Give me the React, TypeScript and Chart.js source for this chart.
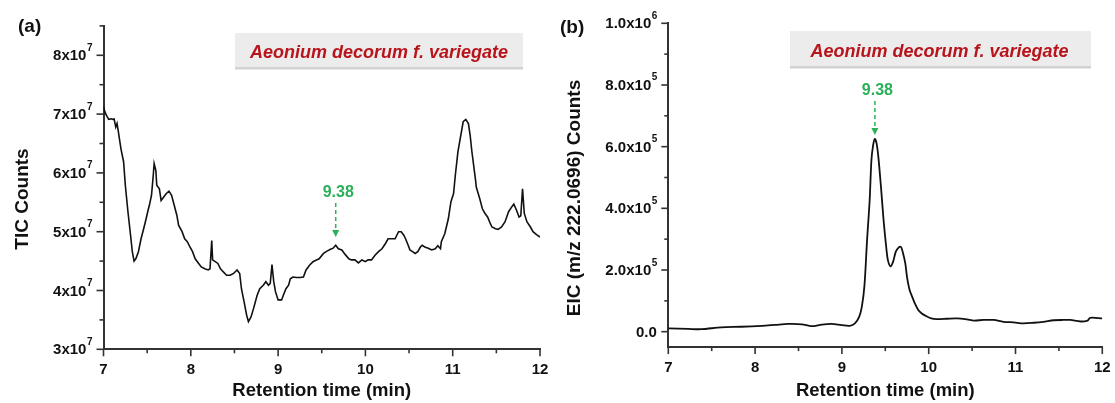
import React, { useEffect, useRef } from 'react';
import { Chart, registerables } from 'chart.js';

Chart.register(...registerables);

const FONT = '"Liberation Sans", Arial, Helvetica, sans-serif';
const AXIS = '#333333';
const GREEN = '#2bb05a';
const RED = '#b8141c';

// ---------- Data (a) TIC ----------
const ticTime = [
  7.00, 7.02, 7.04, 7.06, 7.09, 7.11, 7.12, 7.14, 7.155, 7.17, 7.20, 7.23, 7.25, 7.28, 7.31, 7.33, 7.35, 7.37,
  7.40, 7.43, 7.46, 7.48, 7.51, 7.53, 7.55, 7.57, 7.58, 7.60, 7.61, 7.64, 7.66, 7.69, 7.72, 7.75, 7.78, 7.81,
  7.84, 7.86, 7.90, 7.93, 7.96, 7.99, 8.02, 8.05, 8.09, 8.12, 8.16, 8.20, 8.22, 8.24, 8.25, 8.28, 8.31, 8.34,
  8.37, 8.41, 8.45, 8.49, 8.53, 8.56, 8.58, 8.61, 8.64, 8.66, 8.69, 8.72, 8.76, 8.79, 8.83, 8.86, 8.89, 8.91,
  8.93, 8.95, 8.97, 9.00, 9.04, 9.06, 9.09, 9.12, 9.14, 9.17, 9.21, 9.25, 9.29, 9.32, 9.36, 9.40, 9.44, 9.47,
  9.52, 9.56, 9.60, 9.63, 9.66, 9.69, 9.73, 9.77, 9.81, 9.84, 9.88, 9.92, 9.96, 10.00, 10.03, 10.07, 10.11,
  10.15, 10.19, 10.23, 10.26, 10.30, 10.34, 10.38, 10.41, 10.44, 10.46, 10.49, 10.51, 10.54, 10.57, 10.60,
  10.63, 10.65, 10.68, 10.72, 10.76, 10.80, 10.83, 10.86, 10.87, 10.91, 10.95, 10.98, 11.01, 11.03, 11.06,
  11.10, 11.12, 11.15, 11.18, 11.20, 11.22, 11.26, 11.27, 11.31, 11.34, 11.37, 11.40, 11.43, 11.45, 11.49,
  11.52, 11.56, 11.60, 11.64, 11.68, 11.70, 11.73, 11.76, 11.78, 11.80, 11.82, 11.85, 11.89, 11.92, 11.96, 12.00,
];
const ticCounts = [
  7.12e7, 7.02e7, 6.96e7, 6.91e7, 6.92e7, 6.91e7, 6.93e7, 6.78e7, 6.84e7, 6.70e7, 6.41e7, 6.19e7, 5.79e7, 5.34e7,
  4.94e7, 4.66e7, 4.50e7, 4.54e7, 4.66e7, 4.88e7, 5.05e7, 5.17e7, 5.36e7, 5.48e7, 5.62e7, 5.96e7, 6.16e7, 6.04e7,
  5.79e7, 5.73e7, 5.53e7, 5.59e7, 5.65e7, 5.69e7, 5.62e7, 5.45e7, 5.28e7, 5.11e7, 5.00e7, 4.88e7, 4.83e7, 4.74e7,
  4.66e7, 4.54e7, 4.46e7, 4.40e7, 4.37e7, 4.35e7, 4.37e7, 4.85e7, 4.52e7, 4.49e7, 4.46e7, 4.37e7, 4.32e7, 4.26e7,
  4.26e7, 4.29e7, 4.35e7, 4.29e7, 4.03e7, 3.81e7, 3.58e7, 3.47e7, 3.55e7, 3.70e7, 3.92e7, 4.03e7, 4.09e7, 4.15e7,
  4.09e7, 4.12e7, 4.44e7, 4.15e7, 3.98e7, 3.84e7, 3.84e7, 3.92e7, 4.03e7, 4.09e7, 4.20e7, 4.23e7, 4.22e7, 4.22e7,
  4.23e7, 4.35e7, 4.43e7, 4.49e7, 4.52e7, 4.54e7, 4.63e7, 4.67e7, 4.70e7, 4.72e7, 4.77e7, 4.71e7, 4.69e7, 4.61e7,
  4.54e7, 4.52e7, 4.52e7, 4.47e7, 4.52e7, 4.49e7, 4.52e7, 4.52e7, 4.60e7, 4.66e7, 4.71e7, 4.80e7, 4.88e7, 4.88e7,
  4.88e7, 5.00e7, 5.00e7, 4.94e7, 4.88e7, 4.77e7, 4.69e7, 4.66e7, 4.63e7, 4.66e7, 4.74e7, 4.77e7, 4.74e7, 4.72e7,
  4.69e7, 4.71e7, 4.76e7, 4.71e7, 4.83e7, 4.97e7, 5.22e7, 5.51e7, 5.65e7, 5.96e7, 6.36e7, 6.70e7, 6.87e7, 6.91e7,
  6.84e7, 6.64e7, 6.36e7, 5.90e7, 5.76e7, 5.56e7, 5.39e7, 5.31e7, 5.25e7, 5.14e7, 5.08e7, 5.05e7, 5.04e7, 5.08e7,
  5.17e7, 5.34e7, 5.43e7, 5.47e7, 5.37e7, 5.25e7, 5.27e7, 5.73e7, 5.31e7, 5.17e7, 5.08e7, 5.00e7, 4.95e7, 4.91e7,
];

// ---------- Data (b) EIC ----------
const eicTime = [
  7.00, 7.23, 7.38, 7.61, 7.84, 8.08, 8.23, 8.38, 8.54, 8.65, 8.77, 8.88, 9.00, 9.09, 9.15, 9.20, 9.23, 9.26,
  9.29, 9.32, 9.34, 9.36, 9.38, 9.40, 9.42, 9.45, 9.48, 9.51, 9.53, 9.56, 9.59, 9.62, 9.65, 9.68, 9.70, 9.73,
  9.75, 9.78, 9.81, 9.84, 9.88, 9.92, 9.98, 10.03, 10.09, 10.21, 10.32, 10.44, 10.52, 10.63, 10.75, 10.86,
  10.98, 11.09, 11.21, 11.32, 11.44, 11.55, 11.63, 11.75, 11.83, 11.86, 12.00,
];
const eicCounts = [
  0.11e5, 0.09e5, 0.08e5, 0.14e5, 0.16e5, 0.19e5, 0.22e5, 0.25e5, 0.24e5, 0.18e5, 0.23e5, 0.25e5, 0.21e5, 0.19e5,
  0.27e5, 0.49e5, 0.81e5, 1.50e5, 2.97e5, 4.27e5, 5.56e5, 6.05e5, 6.25e5, 6.10e5, 5.67e5, 4.70e5, 3.62e5, 2.76e5,
  2.32e5, 2.12e5, 2.27e5, 2.59e5, 2.72e5, 2.75e5, 2.59e5, 2.22e5, 1.78e5, 1.35e5, 1.13e5, 0.92e5, 0.70e5, 0.59e5,
  0.49e5, 0.43e5, 0.41e5, 0.42e5, 0.43e5, 0.40e5, 0.36e5, 0.38e5, 0.38e5, 0.32e5, 0.30e5, 0.27e5, 0.29e5, 0.32e5,
  0.37e5, 0.38e5, 0.38e5, 0.33e5, 0.36e5, 0.45e5, 0.43e5,
];

// ---------- Axes / ticks ----------
const xMajorTicks = [7, 8, 9, 10, 11, 12];
const xMinorTicks = [7.5, 8.5, 9.5, 10.5, 11.5];
const ticYTicks = [3e7, 4e7, 5e7, 6e7, 7e7, 8e7];
const ticYMinor = [3.5e7, 4.5e7, 5.5e7, 6.5e7, 7.5e7, 8.5e7];
const ticYMant = ['3x10', '4x10', '5x10', '6x10', '7x10', '8x10'];
const ticYExp = ['7', '7', '7', '7', '7', '7'];
const eicYTicks = [0, 2e5, 4e5, 6e5, 8e5, 1e6];
const eicYMinor = [1e5, 3e5, 5e5, 7e5, 9e5];
const eicYMant = ['0.0', '2.0x10', '4.0x10', '6.0x10', '8.0x10', '1.0x10'];
const eicYExp = ['', '5', '5', '5', '5', '6'];

const sampleName = 'Aeonium decorum f. variegate';
const xTitle = 'Retention time (min)';
const ticTitle = 'TIC Counts';
const eicTitle = 'EIC (m/z 222.0696) Counts';
const markLabel = '9.38';

type Cfg = {
  canvasLeft: number;
  width: number;
  padTop: number;
  padRight: number;
  yAxisW: number;
  xAxisH: number;
  yMin: number;
  yMax: number;
  times: number[];
  values: number[];
  lineWidth: number;
  tension: number;
  yTicks: number[];
  yMinor: number[];
  yMant: string[];
  yExp: string[];
  yTitle: string;
  yTitleX: number;
  yTitleY: number;
  letter: string;
  letterX: number;
  letterY: number;
  box: [number, number, number, number];
  boxTextX: number;
  boxTextY: number;
  markT: number;
  markV: number;
};

function decorPlugin(cfg: Cfg) {
  return {
    id: 'decor',
    afterDraw(chart: any) {
      const { ctx, chartArea: ca, scales } = chart;
      const xs = scales.x;
      const ys = scales.y;
      ctx.save();
      ctx.strokeStyle = AXIS;
      ctx.lineWidth = 1.6;
      const seg = (x1: number, y1: number, x2: number, y2: number) => {
        ctx.beginPath();
        ctx.moveTo(x1, y1);
        ctx.lineTo(x2, y2);
        ctx.stroke();
      };
      xMajorTicks.forEach((v) => {
        const px = xs.getPixelForValue(v);
        seg(px, ca.bottom, px, ca.bottom + 7);
      });
      xMinorTicks.forEach((v) => {
        const px = xs.getPixelForValue(v);
        seg(px, ca.bottom, px, ca.bottom + 4);
      });
      cfg.yTicks.forEach((v) => {
        const py = ys.getPixelForValue(v);
        seg(ca.left - 7, py, ca.left, py);
      });
      cfg.yMinor.forEach((v) => {
        const py = ys.getPixelForValue(v);
        seg(ca.left - 4, py, ca.left, py);
      });

      ctx.fillStyle = '#111';
      // x tick labels
      ctx.font = `bold 15px ${FONT}`;
      ctx.textAlign = 'center';
      ctx.textBaseline = 'alphabetic';
      xMajorTicks.forEach((v) => {
        ctx.fillText(String(v), xs.getPixelForValue(v), ca.bottom + 24.5);
      });
      // y tick labels with superscript exponent
      cfg.yTicks.forEach((v, i) => {
        const py = ys.getPixelForValue(v);
        const right = ca.left - 11;
        ctx.font = `bold 10px ${FONT}`;
        const exp = cfg.yExp[i];
        const we = exp ? ctx.measureText(exp).width : 0;
        ctx.textAlign = 'left';
        if (exp) ctx.fillText(exp, right - we, py - 4.5);
        ctx.font = `bold 15px ${FONT}`;
        ctx.textAlign = 'right';
        ctx.fillText(cfg.yMant[i], right - we - 0.5, py + 5);
      });
      // x title
      ctx.font = `bold 18.5px ${FONT}`;
      ctx.textAlign = 'center';
      ctx.fillText(xTitle, (ca.left + ca.right) / 2, 396);
      // y title
      ctx.save();
      ctx.translate(cfg.yTitleX, cfg.yTitleY);
      ctx.rotate(-Math.PI / 2);
      ctx.font = `bold 19px ${FONT}`;
      ctx.textAlign = 'center';
      ctx.textBaseline = 'middle';
      ctx.fillText(cfg.yTitle, 0, 0);
      ctx.restore();
      // panel letter
      ctx.font = `bold 19px ${FONT}`;
      ctx.textAlign = 'left';
      ctx.textBaseline = 'alphabetic';
      ctx.fillText(cfg.letter, cfg.letterX, cfg.letterY);
      // legend box
      const [bx, by, bw, bh] = cfg.box;
      ctx.fillStyle = '#ececec';
      ctx.fillRect(bx, by, bw, bh);
      ctx.fillStyle = '#d2d2d2';
      ctx.fillRect(bx, by + bh - 2, bw, 2.5);
      ctx.fillStyle = RED;
      ctx.font = `italic bold 18px ${FONT}`;
      ctx.textAlign = 'center';
      ctx.fillText(sampleName, cfg.boxTextX, cfg.boxTextY);
      // marker arrow
      const ax = xs.getPixelForValue(cfg.markT);
      const tipY = ys.getPixelForValue(cfg.markV);
      ctx.strokeStyle = GREEN;
      ctx.lineWidth = 1.5;
      ctx.setLineDash([4, 3]);
      seg(ax, tipY - 34, ax, tipY - 6);
      ctx.setLineDash([]);
      ctx.fillStyle = GREEN;
      ctx.beginPath();
      ctx.moveTo(ax, tipY);
      ctx.lineTo(ax - 3.5, tipY - 7);
      ctx.lineTo(ax + 3.5, tipY - 7);
      ctx.closePath();
      ctx.fill();
      ctx.font = `bold 16px ${FONT}`;
      ctx.textAlign = 'center';
      ctx.fillText(markLabel, ax + 2.5, tipY - 40);
      ctx.restore();
    },
  };
}

function makeChart(canvas: HTMLCanvasElement, cfg: Cfg) {
  return new Chart(canvas, {
    type: 'line',
    data: {
      datasets: [
        {
          data: cfg.times.map((t, i) => ({ x: t, y: cfg.values[i] })),
          borderColor: '#111111',
          borderWidth: cfg.lineWidth,
          pointRadius: 0,
          tension: cfg.tension,
          fill: false,
        },
      ],
    },
    options: {
      responsive: false,
      animation: false,
      devicePixelRatio: 1,
      layout: { padding: { left: 0, top: cfg.padTop, right: cfg.padRight, bottom: 0 } },
      plugins: { legend: { display: false }, tooltip: { enabled: false } },
      scales: {
        x: {
          type: 'linear',
          min: 7,
          max: 12,
          grid: { display: false, drawTicks: false },
          border: { display: true, color: AXIS, width: 2 },
          ticks: { display: false },
          afterFit: (s: any) => {
            s.height = cfg.xAxisH;
          },
        },
        y: {
          type: 'linear',
          min: cfg.yMin,
          max: cfg.yMax,
          grid: { display: false, drawTicks: false },
          border: { display: true, color: AXIS, width: 2 },
          ticks: { display: false },
          afterFit: (s: any) => {
            s.width = cfg.yAxisW;
          },
        },
      },
    } as any,
    plugins: [decorPlugin(cfg)],
  });
}

const leftCfg: Cfg = {
  canvasLeft: 0,
  width: 557,
  padTop: 25.9,
  padRight: 17,
  yAxisW: 103.5,
  xAxisH: 53.7,
  yMin: 3e7,
  yMax: 8.5e7,
  times: ticTime,
  values: ticCounts,
  lineWidth: 1.6,
  tension: 0,
  yTicks: ticYTicks,
  yMinor: ticYMinor,
  yMant: ticYMant,
  yExp: ticYExp,
  yTitle: ticTitle,
  yTitleX: 22.5,
  yTitleY: 199,
  letter: '(a)',
  letterX: 18,
  letterY: 32,
  box: [235, 33, 288, 36],
  boxTextX: 379,
  boxTextY: 58,
  markT: 9.66,
  markV: 4.91e7,
};

const rightCfg: Cfg = {
  canvasLeft: 557,
  width: 558,
  padTop: 23.3,
  padRight: 12.7,
  yAxisW: 111.3,
  xAxisH: 55.9,
  yMin: -0.5e5,
  yMax: 1e6,
  times: eicTime,
  values: eicCounts,
  lineWidth: 1.8,
  tension: 0.3,
  yTicks: eicYTicks,
  yMinor: eicYMinor,
  yMant: eicYMant,
  yExp: eicYExp,
  yTitle: eicTitle,
  yTitleX: 18,
  yTitleY: 198,
  letter: '(b)',
  letterX: 3,
  letterY: 33,
  box: [233, 31, 301, 37],
  boxTextX: 382.5,
  boxTextY: 57,
  markT: 9.38,
  markV: 6.38e5,
};

export default function App() {
  const leftRef = useRef<HTMLCanvasElement>(null);
  const rightRef = useRef<HTMLCanvasElement>(null);
  useEffect(() => {
    const a = makeChart(leftRef.current as HTMLCanvasElement, leftCfg);
    const b = makeChart(rightRef.current as HTMLCanvasElement, rightCfg);
    return () => {
      a.destroy();
      b.destroy();
    };
  }, []);
  return (
    <div style={{ position: 'absolute', left: 0, top: 0, width: 1115, height: 403, background: '#fff' }}>
      <canvas
        ref={leftRef}
        width={leftCfg.width}
        height={403}
        style={{ position: 'absolute', left: leftCfg.canvasLeft, top: 0, width: leftCfg.width, height: 403 }}
      />
      <canvas
        ref={rightRef}
        width={rightCfg.width}
        height={403}
        style={{ position: 'absolute', left: rightCfg.canvasLeft, top: 0, width: rightCfg.width, height: 403 }}
      />
    </div>
  );
}
